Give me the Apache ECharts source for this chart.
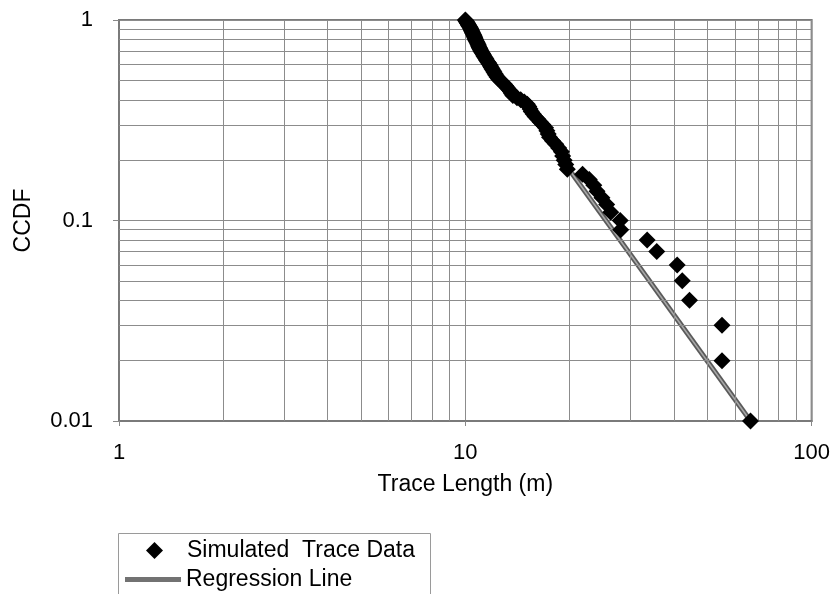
<!DOCTYPE html>
<html>
<head>
<meta charset="utf-8">
<script src="https://cdn.jsdelivr.net/npm/echarts@6/dist/echarts.min.js"></script>
<style>
html, body { margin: 0; padding: 0; background: #fff; }
#chart { width: 833px; height: 594px; }
</style>
</head>
<body>
<div id="chart"></div>
<script>
// Simulated trace data: CCDF value and trace length (m)
var ccdf = [
    1.00, 0.99, 0.98, 0.97, 0.96, 0.95, 0.94, 0.93, 0.92, 0.91,
    0.90, 0.89, 0.88, 0.87, 0.86, 0.85, 0.84, 0.83, 0.82, 0.81,
    0.80, 0.79, 0.78, 0.77, 0.76, 0.75, 0.74, 0.73, 0.72, 0.71,
    0.70, 0.69, 0.68, 0.67, 0.66, 0.65, 0.64, 0.63, 0.62, 0.61,
    0.60, 0.59, 0.58, 0.57, 0.56, 0.55, 0.54, 0.53, 0.52, 0.51,
    0.50, 0.49, 0.48, 0.47, 0.46, 0.45, 0.44, 0.43, 0.42, 0.41,
    0.40, 0.39, 0.38, 0.37, 0.36, 0.35, 0.34, 0.33, 0.32, 0.31,
    0.30, 0.29, 0.28, 0.27, 0.26, 0.25, 0.24, 0.23, 0.22, 0.21,
    0.20, 0.19, 0.18, 0.17, 0.16, 0.15, 0.14, 0.13, 0.12, 0.11,
    0.10, 0.09, 0.08, 0.07, 0.06, 0.05, 0.04, 0.03, 0.02, 0.01
];
var traceLength = [
    10.00, 10.05, 10.08, 10.12, 10.15, 10.20, 10.22, 10.27, 10.31, 10.35,
    10.38, 10.41, 10.44, 10.48, 10.50, 10.55, 10.58, 10.61, 10.64, 10.67,
    10.70, 10.73, 10.78, 10.82, 10.86, 10.90, 10.93, 10.97, 11.01, 11.05,
    11.10, 11.16, 11.22, 11.27, 11.33, 11.40, 11.46, 11.52, 11.60, 11.68,
    11.75, 11.82, 11.88, 11.95, 12.03, 12.10, 12.18, 12.26, 12.35, 12.46,
    12.58, 12.75, 12.95, 13.08, 13.20, 13.35, 13.50, 13.60, 13.72, 14.10,
    14.45, 14.80, 15.10, 15.25, 15.38, 15.50, 15.70, 15.90, 16.20, 16.45,
    16.75, 17.05, 17.20, 17.35, 17.50, 17.85, 18.25, 18.60, 18.95, 19.10,
    19.30, 19.50, 19.70, 21.8, 22.8, 23.5, 24.0, 24.8, 25.6, 26.3,
    28.0, 28.1, 33.5, 35.7, 40.9, 42.3, 44.4, 55.1, 55.1, 66.6
];

// regression line end points
var regressionX = [20.3, 66.6];
var regressionY = [0.172, 0.01];

// minor grid values (2..9 in each decade)
var minorX = [2, 3, 4, 5, 6, 7, 8, 9, 20, 30, 40, 50, 60, 70, 80, 90];
var minorY = [0.02, 0.03, 0.04, 0.05, 0.06, 0.07, 0.08, 0.09, 0.2, 0.3, 0.4, 0.5, 0.6, 0.7, 0.8, 0.9];

var font = 'Liberation Sans, Arial, sans-serif';

var scatterData = traceLength.map(function (x, i) { return [x, ccdf[i]]; });
var lineData = regressionX.map(function (x, i) { return [x, regressionY[i]]; });

var gridMarks = [];
minorX.forEach(function (v) { gridMarks.push({ xAxis: v }); });
minorY.forEach(function (v) { gridMarks.push({ yAxis: v }); });

var option = {
    animation: false,
    backgroundColor: '#fff',
    textStyle: { fontFamily: font },
    grid: {
        left: 119,
        right: 20,
        top: 20,
        bottom: 173,
        show: true,
        borderColor: '#7a7a7a',
        borderWidth: 2
    },
    xAxis: {
        type: 'log',
        logBase: 10,
        min: 1,
        max: 100,
        name: 'Trace Length (m)',
        nameLocation: 'middle',
        nameGap: 52,
        nameTextStyle: { fontSize: 23, color: '#000', fontFamily: font },
        axisLine: { show: true, lineStyle: { color: '#7a7a7a', width: 2 } },
        axisTick: { show: true, length: 5, lineStyle: { color: '#888' } },
        axisLabel: { fontSize: 22, color: '#000', margin: 21, fontFamily: font },
        splitLine: { show: true, lineStyle: { color: '#8c8c8c', width: 1 } }
    },
    yAxis: {
        type: 'log',
        logBase: 10,
        min: 0.01,
        max: 1,
        name: 'CCDF',
        nameLocation: 'middle',
        nameGap: 84,
        nameTextStyle: { fontSize: 23, color: '#000', fontFamily: font },
        axisLine: { show: true, lineStyle: { color: '#7a7a7a', width: 2 } },
        axisTick: { show: true, length: 6, lineStyle: { color: '#888' } },
        axisLabel: {
            fontSize: 22, color: '#000', margin: 26, fontFamily: font,
            formatter: function (v) { return String(+Number(v).toPrecision(3)); }
        },
        splitLine: { show: true, lineStyle: { color: '#8c8c8c', width: 1 } }
    },
    legend: [
        {
            data: ['Simulated  Trace Data'],
            left: 146,
            top: 539,
            padding: 0,
            itemWidth: 17,
            itemHeight: 17,
            textStyle: { fontSize: 23, color: '#000', fontFamily: font, padding: [0, 0, 0, 19] }
        },
        {
            data: [{ name: 'Regression Line', icon: 'rect' }],
            left: 125,
            top: 568,
            padding: 0,
            itemWidth: 56,
            itemHeight: 5,
            textStyle: { fontSize: 23, color: '#000', fontFamily: font }
        }
    ],
    graphic: [
        {
            type: 'rect',
            silent: true,
            shape: { x: 118.5, y: 533.5, width: 312, height: 80 },
            style: { fill: 'none', stroke: '#9a9a9a', lineWidth: 1 }
        }
    ],
    series: [
        {
            name: 'minor grid',
            type: 'line',
            data: [],
            silent: true,
            markLine: {
                silent: true,
                symbol: 'none',
                label: { show: false },
                lineStyle: { color: '#8c8c8c', width: 1, type: 'solid' },
                data: gridMarks
            }
        },
        {
            name: 'Regression Line',
            type: 'line',
            data: lineData,
            symbol: 'none',
            itemStyle: { color: '#727272' },
            lineStyle: { color: '#5a5a5a', width: 5 },
            z: 3
        },
        {
            name: 'regression inner',
            type: 'line',
            data: lineData,
            symbol: 'none',
            lineStyle: { color: '#a8a8a8', width: 1.5 },
            z: 4
        },
        {
            name: 'Simulated  Trace Data',
            type: 'scatter',
            data: scatterData,
            symbol: 'diamond',
            symbolSize: 17,
            itemStyle: { color: '#000', opacity: 1 },
            z: 5
        }
    ]
};

var chart = echarts.init(document.getElementById('chart'));
chart.setOption(option);
</script>
</body>
</html>
